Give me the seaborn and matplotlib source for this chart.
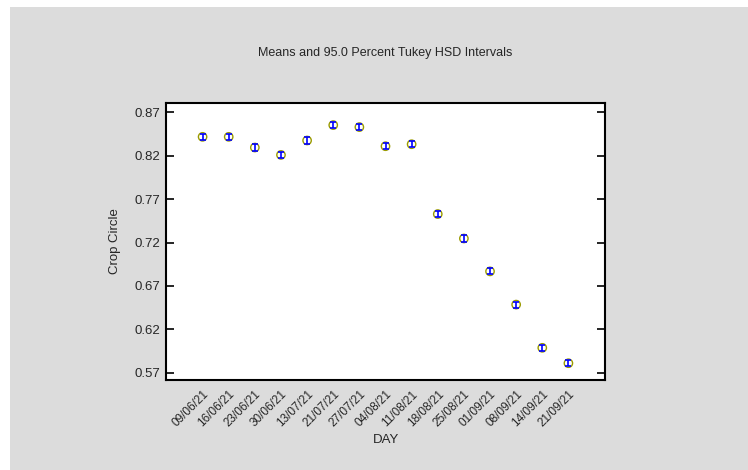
import matplotlib
matplotlib.use("Agg")
import matplotlib.pyplot as plt
from matplotlib.patches import Rectangle
import seaborn as sns
import pandas as pd
import numpy as np

days = ["09/06/21", "16/06/21", "23/06/21", "30/06/21", "13/07/21", "21/07/21",
        "27/07/21", "04/08/21", "11/08/21", "18/08/21", "25/08/21", "01/09/21",
        "08/09/21", "14/09/21", "21/09/21"]
means = [0.8415, 0.8415, 0.8292, 0.8207, 0.8373, 0.8550, 0.8527, 0.8307,
         0.8330, 0.7527, 0.7246, 0.6868, 0.6486, 0.5989, 0.5812]
half_width = [0.0035] * len(days)
y_ticks = [0.57, 0.62, 0.67, 0.72, 0.77, 0.82, 0.87]

sns.set_theme(style="white")
plt.rcParams["font.family"] = ["Liberation Sans", "DejaVu Sans"]

df = pd.DataFrame({"DAY": days, "pos": np.arange(len(days)), "mean": means,
                   "hw": half_width})

fig = plt.figure(figsize=(7.48, 4.70), dpi=100, facecolor="white")
fig.patches.append(Rectangle((10 / 748, 0), 1, (470 - 7) / 470,
                             transform=fig.transFigure, facecolor="#dcdcdc",
                             edgecolor="none", zorder=-10))
ax = fig.add_axes([166 / 748, 1 - 380 / 470, (605 - 166) / 748, (380 - 103) / 470])
ax.set_facecolor("white")

# Tukey HSD intervals around each mean
ax.errorbar(df["pos"], df["mean"], yerr=df["hw"], fmt="none", ecolor="#0000ff",
            elinewidth=1.2, capsize=2.5, capthick=1.2, zorder=3)
sns.scatterplot(data=df, x="pos", y="mean", ax=ax, marker="o", s=36,
                facecolor="none", edgecolor="#9a9a00", linewidth=1.0, zorder=2,
                legend=False)

ax.set_xlim(-1.4, len(days) - 1 + 1.4)
ax.set_ylim(0.5619, 0.8804)
ax.set_yticks(y_ticks)
ax.set_yticklabels([f"{v:.2f}" for v in y_ticks], fontsize=9.5)
ax.set_xticks(df["pos"])
ax.set_xticklabels(days, rotation=45, ha="right", rotation_mode="anchor", fontsize=8.5)
ax.tick_params(axis="x", length=0, pad=6)
ax.tick_params(axis="y", direction="in", length=6, width=1.2, color="black",
               left=True, right=True, pad=4)
for s in ax.spines.values():
    s.set_color("black")
    s.set_linewidth(1.5)

ax.set_xlabel("DAY", fontsize=9.5, labelpad=3)
ax.set_ylabel("Crop Circle", fontsize=9.5, labelpad=10)
fig.text((166 + 605) / 2 / 748, 1 - 53 / 470, "Means and 95.0 Percent Tukey HSD Intervals",
         ha="center", va="center", fontsize=9)

fig.savefig("out.png", dpi=100, facecolor=fig.get_facecolor())
